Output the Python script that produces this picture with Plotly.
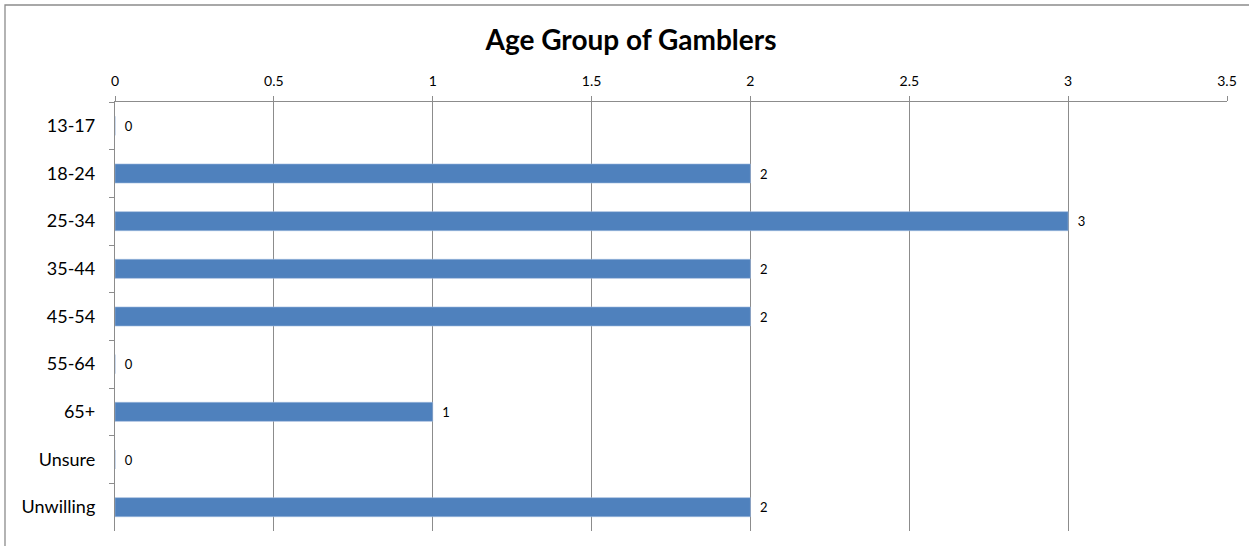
import plotly.graph_objects as go

categories = ["13-17", "18-24", "25-34", "35-44", "45-54", "55-64", "65+", "Unsure", "Unwilling"]
values = [0, 2, 3, 2, 2, 0, 1, 0, 2]
x_ticks = [0, 0.5, 1, 1.5, 2, 2.5, 3, 3.5]
x_tick_labels = ["0", "0.5", "1", "1.5", "2", "2.5", "3", "3.5"]

FONT = "Lato"
GRID = "#8c8c8c"

fig = go.Figure(go.Bar(
    y=categories,
    x=values,
    orientation="h",
    width=0.4,
    marker=dict(color="#4F81BD", line=dict(width=0.6, color="#9DB9DD")),
    text=["  " + str(v) for v in values],
    textposition="outside",
    textfont=dict(family=FONT, size=13, color="#000000"),
    cliponaxis=False,
))

W, H = 1249, 546
L, R, T, B = 115, 22, 102, 15
pw, ph = W - L - R, H - T - B

def px(x):
    return (x - L) / pw

def py(y):
    return 1 - (y - T) / ph

fig.update_layout(
    width=W, height=H,
    margin=dict(l=L, r=R, t=T, b=B),
    paper_bgcolor="white",
    plot_bgcolor="white",
    showlegend=False,
    title=dict(
        text="<b>Age Group of Gamblers</b>",
        x=631 / W, xref="container", xanchor="center",
        y=1 - 40 / H, yref="container", yanchor="middle",
        font=dict(family=FONT, size=28, color="#000000"),
    ),
    xaxis=dict(
        side="top",
        range=[0, 3.5],
        tickvals=x_ticks,
        ticktext=x_tick_labels,
        showgrid=True, gridcolor=GRID, gridwidth=1.3,
        showline=True, linecolor=GRID, linewidth=1.3,
        ticks="outside", ticklen=5, tickcolor=GRID, tickwidth=1.3,
        ticklabelstandoff=4,
        tickfont=dict(family=FONT, size=14, color="#000000"),
        zeroline=False,
        fixedrange=True,
    ),
    yaxis=dict(
        type="category",
        categoryorder="array",
        categoryarray=categories,
        autorange="reversed",
        showgrid=False,
        showline=True, linecolor=GRID, linewidth=1.3,
        ticks="outside", ticklen=5, tickcolor=GRID, tickwidth=1.3,
        tickson="boundaries",
        ticklabelstandoff=15,
        tickfont=dict(family=FONT, size=18, color="#000000"),
        fixedrange=True,
    ),
    shapes=[
        dict(type="rect", xref="paper", yref="paper",
             x0=px(5), x1=px(W + 20), y0=py(H + 20), y1=py(5),
             line=dict(color="#8c8c8c", width=1.3), fillcolor="rgba(0,0,0,0)", layer="below"),
    ],
)

fig.write_html("out.html", config={"displayModeBar": False},
               post_script="document.body.style.margin='0';document.body.style.overflow='hidden';")
